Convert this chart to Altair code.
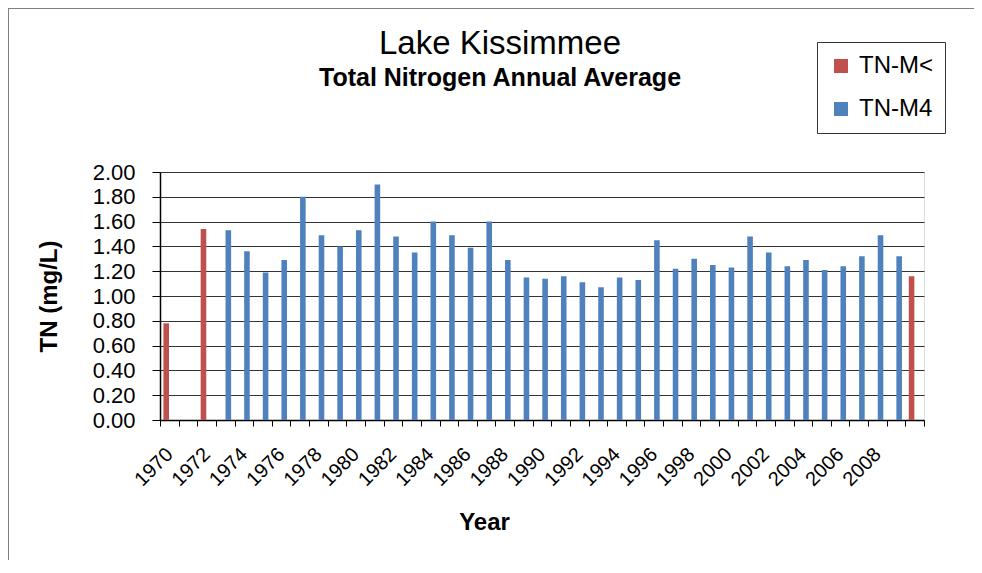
import altair as alt
import pandas as pd

years = list(range(1970, 2011))

red_years = [1970, 1972, 2010]
red_values = [0.78, 1.54, 1.16]

blue_years = list(range(1973, 2010))
blue_values = [1.53, 1.36, 1.19, 1.29, 1.80, 1.49, 1.40, 1.53, 1.90, 1.48,
               1.35, 1.60, 1.49, 1.39, 1.60, 1.29, 1.15, 1.14, 1.16, 1.11,
               1.07, 1.15, 1.13, 1.45, 1.22, 1.30, 1.25, 1.23, 1.48, 1.35,
               1.24, 1.29, 1.21, 1.24, 1.32, 1.49, 1.32]

series = ["TN-M<", "TN-M4"]
colors = ["#C0504D", "#4F81BD"]

rows = [{"year": y, "series": series[0], "value": v} for y, v in zip(red_years, red_values)]
rows += [{"year": y, "series": series[1], "value": v} for y, v in zip(blue_years, blue_values)]
df = pd.DataFrame(rows)

FONT = "Liberation Sans"

bars = alt.Chart(df).mark_bar().encode(
    x=alt.X("year:O",
            scale=alt.Scale(domain=years, paddingInner=0, paddingOuter=0),
            axis=alt.Axis(title="Year", labelAngle=-45, labelAlign="right",
                          labelBaseline="middle", labelFontSize=20, labelFont=FONT,
                          labelColor="black", labelPadding=25,
                          labelExpr="datum.value % 2 == 0 && datum.value < 2010 ? datum.label : ''",
                          tickBand="extent", tickSize=6, tickColor="black",
                          domainColor="black", domainWidth=1.5, labelOverlap=False,
                          titleFont=FONT, titleFontSize=24, titleFontWeight="bold",
                          titleColor="black", titleX=324, titleY=109,
                          titleBaseline="alphabetic", titleAlign="center")),
    xOffset=alt.XOffset("series:N",
                        scale=alt.Scale(domain=series, paddingInner=0.1, paddingOuter=0.55)),
    y=alt.Y("value:Q",
            scale=alt.Scale(domain=[0, 2], nice=False),
            axis=alt.Axis(title="TN (mg/L)", values=[0, 0.2, 0.4, 0.6, 0.8, 1.0, 1.2, 1.4, 1.6, 1.8, 2.0],
                          format=".2f", labelFontSize=22, labelFont=FONT, labelColor="black",
                          labelPadding=17, tickSize=8, tickColor="black",
                          domainColor="black", domainWidth=1.5,
                          grid=True, gridColor="#333333", gridWidth=1,
                          titleFont=FONT, titleFontSize=24, titleFontWeight="bold",
                          titleColor="black", titleX=-104, titleY=124, titleAngle=-90,
                          titleAlign="center", titleBaseline="alphabetic")),
    color=alt.Color("series:N",
                    scale=alt.Scale(domain=series, range=colors),
                    legend=alt.Legend(title=None, orient="none", legendX=657, legendY=-130,
                                      symbolType="square", symbolSize=196, symbolStrokeWidth=0,
                                      labelFontSize=24, labelFont=FONT, labelColor="black",
                                      labelOffset=6, rowPadding=19, padding=12,
                                      strokeColor="#333333", fillColor="white")),
)

frame = alt.Chart(df).mark_rect(fill=None, stroke="#808080", strokeWidth=1.5).encode(
    x=alt.value(-152), x2=alt.value(815), y=alt.value(-164), y2=alt.value(420)
)

chart = alt.layer(frame, bars).properties(
    width=764,
    height=248,
    autosize=alt.AutoSizeParams(type="none"),
    padding={"left": 152, "top": 164, "right": 50, "bottom": 140},
    title=alt.TitleParams(text="Lake Kissimmee", subtitle="Total Nitrogen Annual Average",
                          font=FONT, fontSize=33, fontWeight="normal", color="black",
                          subtitleFont=FONT, subtitleFontSize=25, subtitleFontWeight="bold",
                          subtitleColor="black", subtitlePadding=5,
                          anchor="middle", dx=-42, offset=-84),
).configure_view(stroke="#808080", strokeWidth=2).configure(background="white")

chart.save("out.html", embed_options={"renderer": "svg", "actions": False})
